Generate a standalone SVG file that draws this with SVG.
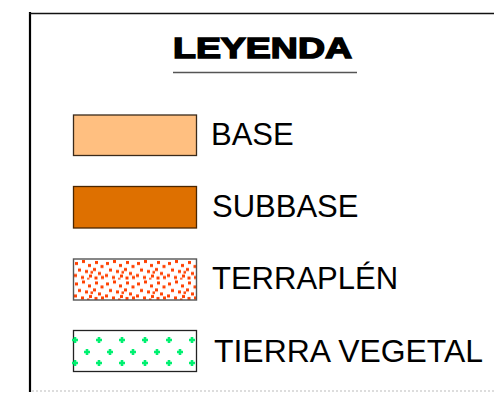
<svg xmlns="http://www.w3.org/2000/svg" width="494" height="393" viewBox="0 0 494 393">
<style>
.lbl{font-family:"Liberation Sans",Arial,sans-serif;font-size:31px;fill:#000}
.ttl{font-family:"Liberation Sans",Arial,sans-serif;font-size:30px;font-weight:bold;fill:#000;stroke:#000;stroke-width:1.5;stroke-linejoin:miter}
.dot{fill:#ff4000}
.cr{fill:#00f070}
</style>
<defs>
<pattern id="terr" x="73" y="259" width="31" height="20.5" patternUnits="userSpaceOnUse">
<g class="dot">
<rect x="2" y="3" width="3" height="3"/><rect x="9" y="1" width="3" height="3"/><rect x="15" y="5" width="3" height="3"/><rect x="22" y="2" width="3" height="3"/><rect x="27.5" y="6" width="3" height="3"/><rect x="5" y="9.5" width="3" height="3"/><rect x="12" y="11" width="3" height="3"/><rect x="20" y="9" width="3" height="3"/><rect x="25" y="13" width="3" height="3"/><rect x="1" y="15" width="3" height="3"/><rect x="8" y="17" width="3" height="3"/><rect x="16" y="15.5" width="3" height="3"/><rect x="21.5" y="17.5" width="3" height="3"/><rect x="28" y="17" width="3" height="3"/><rect x="14" y="19" width="2.5" height="1.5"/><rect x="17.5" y="12" width="2.5" height="2.5"/>
</g>
</pattern>
<path id="cross" d="M-1.3,-3h2.6v1.7h1.7v2.6h-1.7v1.7h-2.6v-1.7h-1.7v-2.6h1.7z"/>
</defs>
<g id="frame">
<line x1="30" y1="12" x2="30" y2="392" stroke="#000" stroke-width="2.2"/>
<line x1="29" y1="13.5" x2="494" y2="13.5" stroke="#111" stroke-width="1.5"/>
<line x1="32" y1="391" x2="494" y2="391" stroke="#bbb" stroke-width="1" stroke-dasharray="2,2"/>
</g>
<g id="title">
<text class="ttl" x="173" y="57.5" textLength="179" lengthAdjust="spacingAndGlyphs">LEYENDA</text>
<line x1="173" y1="72.5" x2="357" y2="72.5" stroke="#555" stroke-width="1.5"/>
</g>
<g id="base">
<rect x="73.5" y="115" width="123" height="40.5" fill="#ffbf80" stroke="#3a2a1a" stroke-width="1.3"/>
<text class="lbl" x="211" y="144.5">BASE</text>
</g>
<g id="subbase">
<rect x="73.5" y="186.5" width="123" height="41.5" fill="#de7000" stroke="#4a2600" stroke-width="1.3"/>
<text class="lbl" x="212" y="216.5">SUBBASE</text>
</g>
<g id="terraplen">
<rect x="73.5" y="259" width="123" height="41" fill="#fff"/>
<rect x="73.5" y="259" width="123" height="41" fill="url(#terr)" stroke="#555" stroke-width="1.4"/>
<text class="lbl" x="212" y="288.5">TERRAPLÉN</text>
</g>
<g id="vegetal">
<rect x="73.5" y="330.5" width="123" height="41" fill="#fff" stroke="#222" stroke-width="1.3"/>
<g class="cr">
<use href="#cross" x="75" y="340"/><use href="#cross" x="99" y="340"/><use href="#cross" x="122" y="340"/><use href="#cross" x="145" y="340"/><use href="#cross" x="169" y="340"/><use href="#cross" x="192" y="340"/>
<use href="#cross" x="87" y="352"/><use href="#cross" x="110" y="352"/><use href="#cross" x="133" y="352"/><use href="#cross" x="157" y="352"/><use href="#cross" x="180" y="352"/>
<use href="#cross" x="75" y="363"/><use href="#cross" x="99" y="363"/><use href="#cross" x="122" y="363"/><use href="#cross" x="145" y="363"/><use href="#cross" x="169" y="363"/><use href="#cross" x="192" y="363"/>
</g>
<text class="lbl" x="214" y="361.5" textLength="269" lengthAdjust="spacingAndGlyphs">TIERRA VEGETAL</text>
</g>
</svg>
